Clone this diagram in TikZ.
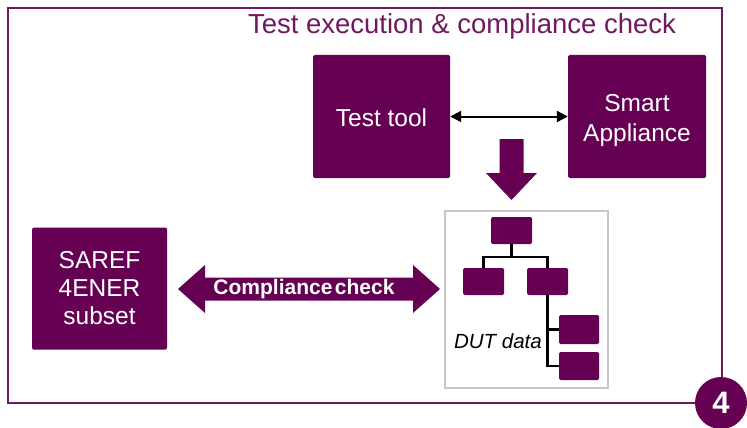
\documentclass[tikz,border=0pt]{standalone}
\usepackage{fontspec}
\setmainfont{Liberation Sans}
\usetikzlibrary{arrows.meta}
\definecolor{plum}{RGB}{101,0,82}
\definecolor{frameplum}{RGB}{112,24,96}
\begin{document}
\begin{tikzpicture}[x=1pt,y=-1pt,
  bigbox/.style={fill=plum, text=white, rounded corners=1.5pt, align=center, inner sep=0pt,
    font=\fontsize{24.5}{30}\selectfont},
  boxtext/.style={text=white, align=center, inner sep=0pt, font=\fontsize{24.5}{30}\selectfont},
  leaf/.style={fill=plum, rounded corners=1.5pt, inner sep=0pt, minimum width=41pt, minimum height=27pt},
  tree/.style={black, line width=2.2pt},
  fat/.style={fill=plum}]
\useasboundingbox (0,0) rectangle (747,428);
% frame
\draw[frameplum, line width=2pt] (8,8) rectangle (722,403);
\node[text=frameplum, font=\fontsize{27.5}{32}\selectfont, anchor=base] (title) at (462,34) {Test execution \& compliance check};
% top boxes
\node[bigbox, minimum width=137pt, minimum height=123pt] (tt) at (381.5,116.5) {};
\node[boxtext] (ttlabel) at ([yshift=-1.5pt]tt.center) {Test tool};
\node[bigbox, minimum width=138pt, minimum height=123pt] (sa) at (637,116.5) {};
\node[boxtext] (salabel) at ([yshift=-4pt]sa.center) {Smart\\Appliance};
\draw[<->, line width=2pt, >={Triangle[length=11pt,width=11pt]}] (tt.east) -- (sa.west);
% down arrow
\fill[fat] (499.5,139) -- (523.5,139) -- (523.5,173) -- (537,173) -- (511.5,200) -- (486,173) -- (499.5,173) -- cycle;
% SAREF box
\node[bigbox, font=\fontsize{24.5}{28}\selectfont, minimum width=135pt, minimum height=122pt] (saref) at (99.5,288.5) {SAREF\\4ENER\\subset};
% DUT panel
\node[draw=black!22, line width=1.5pt, fill=white, minimum width=163pt, minimum height=177pt, inner sep=0pt] (panel) at (526.5,299.5) {};
\node[leaf] (d1) at (511.5,230.5) {};
\node[leaf] (d2) at (483.5,281.5) {};
\node[leaf] (d3) at (547.5,281.5) {};
\node[leaf, minimum width=40pt, minimum height=29pt] (d4) at (579,329.5) {};
\node[leaf, minimum width=40pt, minimum height=28pt] (d5) at (579,366) {};
\draw[tree] (d1.south) -- ++(0,12.5) -| (d2.north);
\draw[tree] (d1.south) -- ++(0,12.5) -| (d3.north);
\draw[tree] (d3.south) |- (d4.west);
\draw[tree] (d3.south) |- (d5.west);
\node[font=\fontsize{20.5}{24}\itshape, text=black, anchor=base] (dut) at (498,348) {DUT data};
% compliance arrow
\fill[fat] (178,289) -- (205,265) -- (205,277.5) -- (413,277.5) -- (413,265) -- (440,289) -- (413,313) -- (413,300.5) -- (205,300.5) -- (205,313) -- cycle;
\node[text=white, font=\fontsize{21}{24}\bfseries] (cc) at (304,289) {Compliance\hspace{0.12em}check};
% number badge
\node[circle, fill=plum, minimum size=52pt, inner sep=0pt, text=white, font=\fontsize{31}{34}\bfseries] (num) at (721,403) {4};
\end{tikzpicture}
\end{document}
